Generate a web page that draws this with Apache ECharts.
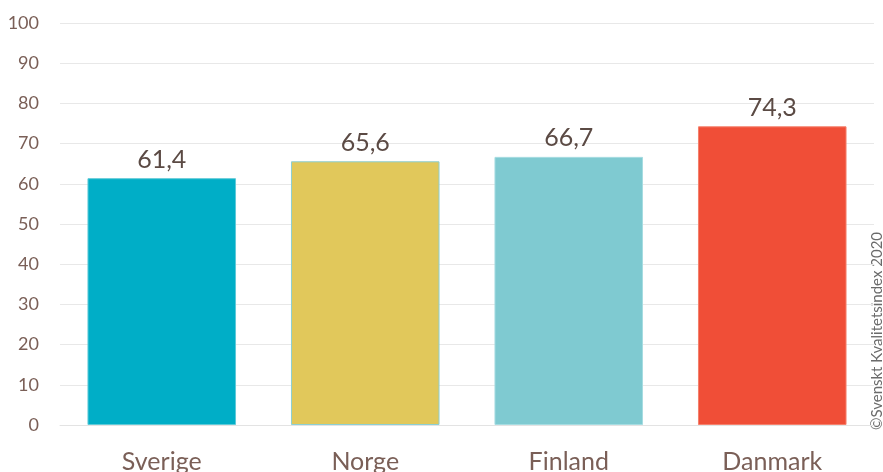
<!DOCTYPE html>
<html>
<head>
<meta charset="utf-8">
<script src="https://cdn.jsdelivr.net/npm/echarts@6/dist/echarts.min.js"></script>
<style>html,body{margin:0;padding:0;background:#fff;}#c{width:883px;height:472px;}</style>
</head>
<body>
<div id="c"></div>
<script>
var categories = ['Sverige', 'Norge', 'Finland', 'Danmark'];
var values = [61.4, 65.6, 66.7, 74.3];
var barColors = ['#00AEC7', '#E1C85B', '#7FCAD1', '#F04E37'];
var barBorders = ['#5fcad8', '#8ccfd3', '#a6dce1', '#f5806c'];
var yTicks = [0, 10, 20, 30, 40, 50, 60, 70, 80, 90, 100];
var copyright = '©Svenskt Kvalitetsindex 2020';

var chart = echarts.init(document.getElementById('c'));
var font = 'Lato, "Open Sans", sans-serif';
chart.setOption({
  animation: false,
  grid: { left: 60, right: 9, top: 23, bottom: 47, containLabel: false, outerBoundsMode: 'none' },
  xAxis: {
    type: 'category',
    data: categories,
    axisLine: { show: true, lineStyle: { color: '#e3e3e3', width: 1 } },
    axisTick: { show: false },
    axisLabel: { fontSize: 25, color: '#7a5f57', fontFamily: font, margin: 24 }
  },
  yAxis: {
    type: 'value',
    min: yTicks[0],
    max: yTicks[yTicks.length - 1],
    interval: 10,
    axisLine: { show: false },
    axisTick: { show: false },
    splitLine: { lineStyle: { color: '#e8e8e8', width: 1 } },
    axisLabel: { fontSize: 18, color: '#7a5f57', fontFamily: font, margin: 21 }
  },
  series: [{
    type: 'bar',
    barCategoryGap: '27%',
    data: values.map(function (v, i) {
      return { value: v, itemStyle: { color: barColors[i], borderColor: barBorders[i], borderWidth: 1 } };
    }),
    label: {
      show: true,
      position: 'top',
      distance: 6,
      fontSize: 25,
      color: '#5b4a44',
      fontFamily: font,
      formatter: function (p) { return p.value.toFixed(1).replace('.', ','); }
    }
  }],
  graphic: [{
    type: 'text',
    x: 877,
    y: 331,
    rotation: Math.PI / 2,
    style: {
      text: copyright,
      fontSize: 15,
      fill: '#6b6b6b',
      fontFamily: font,
      textAlign: 'center',
      textVerticalAlign: 'middle'
    },
    originX: 0, originY: 0
  }]
});
</script>
</body>
</html>
